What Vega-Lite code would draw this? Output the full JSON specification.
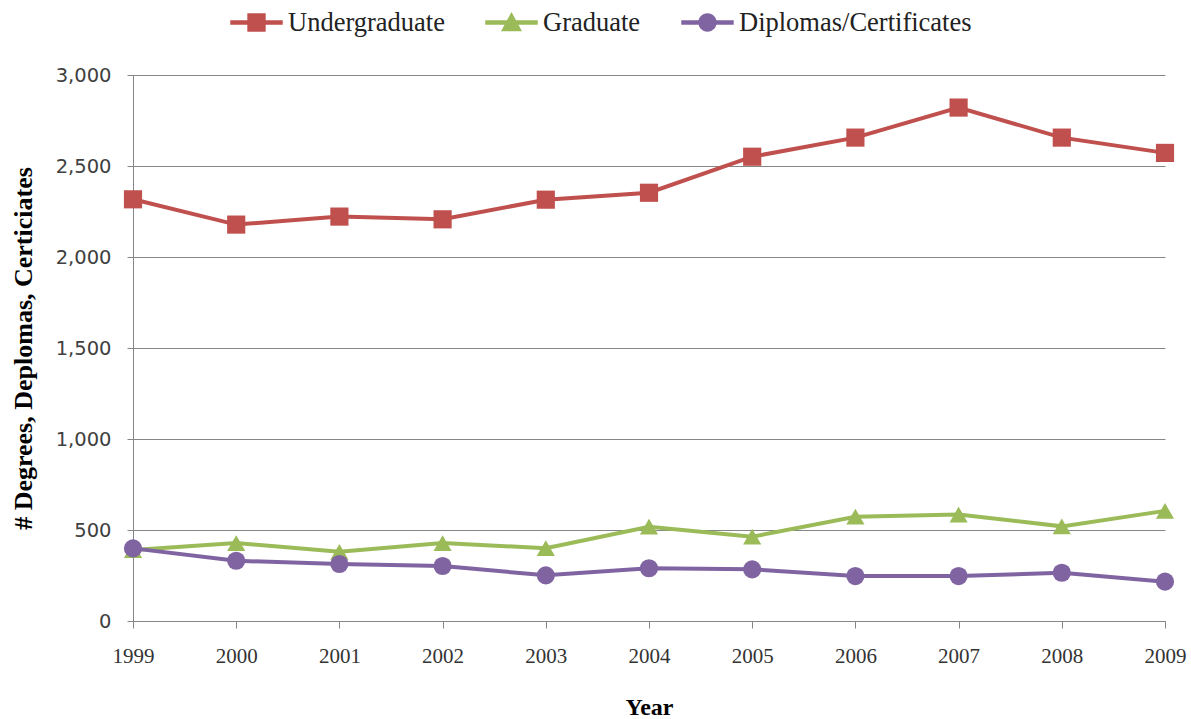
{
  "$schema": "https://vega.github.io/schema/vega-lite/v6.json",
  "autosize": {"type": "none"},
  "padding": {"left": 133, "top": 75, "right": 26, "bottom": 98},
  "width": 1032,
  "height": 546,
  "background": "white",
  "config": {"view": {"stroke": null}},
  "data": {"values": [
    {"Year": "1999", "Series": "Undergraduate", "Value": 2317},
    {"Year": "2000", "Series": "Undergraduate", "Value": 2178},
    {"Year": "2001", "Series": "Undergraduate", "Value": 2222},
    {"Year": "2002", "Series": "Undergraduate", "Value": 2207},
    {"Year": "2003", "Series": "Undergraduate", "Value": 2315},
    {"Year": "2004", "Series": "Undergraduate", "Value": 2353},
    {"Year": "2005", "Series": "Undergraduate", "Value": 2551},
    {"Year": "2006", "Series": "Undergraduate", "Value": 2656},
    {"Year": "2007", "Series": "Undergraduate", "Value": 2821},
    {"Year": "2008", "Series": "Undergraduate", "Value": 2656},
    {"Year": "2009", "Series": "Undergraduate", "Value": 2572},
    {"Year": "1999", "Series": "Graduate", "Value": 390},
    {"Year": "2000", "Series": "Graduate", "Value": 428},
    {"Year": "2001", "Series": "Graduate", "Value": 380},
    {"Year": "2002", "Series": "Graduate", "Value": 428},
    {"Year": "2003", "Series": "Graduate", "Value": 400},
    {"Year": "2004", "Series": "Graduate", "Value": 518},
    {"Year": "2005", "Series": "Graduate", "Value": 463},
    {"Year": "2006", "Series": "Graduate", "Value": 573},
    {"Year": "2007", "Series": "Graduate", "Value": 585},
    {"Year": "2008", "Series": "Graduate", "Value": 520},
    {"Year": "2009", "Series": "Graduate", "Value": 605},
    {"Year": "1999", "Series": "Diplomas/Certificates", "Value": 399},
    {"Year": "2000", "Series": "Diplomas/Certificates", "Value": 331},
    {"Year": "2001", "Series": "Diplomas/Certificates", "Value": 313},
    {"Year": "2002", "Series": "Diplomas/Certificates", "Value": 302},
    {"Year": "2003", "Series": "Diplomas/Certificates", "Value": 251},
    {"Year": "2004", "Series": "Diplomas/Certificates", "Value": 290},
    {"Year": "2005", "Series": "Diplomas/Certificates", "Value": 284},
    {"Year": "2006", "Series": "Diplomas/Certificates", "Value": 247},
    {"Year": "2007", "Series": "Diplomas/Certificates", "Value": 247},
    {"Year": "2008", "Series": "Diplomas/Certificates", "Value": 265},
    {"Year": "2009", "Series": "Diplomas/Certificates", "Value": 216}
  ]},
  "encoding": {
    "x": {
      "field": "Year", "type": "ordinal",
      "scale": {"type": "point", "padding": 0},
      "axis": {
        "title": "Year", "labelAngle": 0,
        "titleFont": "Liberation Serif", "titleFontSize": 24, "titleFontWeight": "bold", "titleColor": "black",
        "titlePadding": 29,
        "labelFont": "Liberation Serif", "labelFontSize": 21, "labelColor": "#333333", "labelPadding": 17,
        "domainColor": "#868686", "tickColor": "#868686", "tickSize": 7, "grid": false
      }
    },
    "y": {
      "field": "Value", "type": "quantitative",
      "scale": {"domain": [0, 3000]},
      "axis": {
        "title": "# Degrees, Deplomas, Certiciates",
        "values": [0, 500, 1000, 1500, 2000, 2500, 3000], "format": ",.0f",
        "titleFont": "Liberation Serif", "titleFontSize": 26, "titleFontWeight": "bold", "titleColor": "black",
        "titleX": -110, "titleY": 273, "titleAngle": -90, "titleAlign": "center", "titleBaseline": "middle",
        "labelFont": "DejaVu Sans", "labelFontSize": 19.5, "labelColor": "#404040", "labelPadding": 16,
        "domainColor": "#868686", "tickColor": "#868686", "tickSize": 6,
        "grid": true, "gridColor": "#868686", "gridWidth": 1
      }
    }
  },
  "layer": [
    {
      "mark": {"type": "line", "strokeWidth": 4},
      "encoding": {
        "color": {"field": "Series", "type": "nominal",
          "scale": {"domain": ["Undergraduate", "Graduate", "Diplomas/Certificates"], "range": ["#C0504D", "#9BBB59", "#8064A2"]},
          "legend": null},
        "detail": {"field": "Series"}
      }
    },
    {
      "mark": {"type": "point", "filled": true, "opacity": 1, "size": 330},
      "encoding": {
        "color": {"field": "Series", "type": "nominal",
          "scale": {"domain": ["Undergraduate", "Graduate", "Diplomas/Certificates"], "range": ["#C0504D", "#9BBB59", "#8064A2"]},
          "legend": null},
        "shape": {"field": "Series", "type": "nominal",
          "scale": {"domain": ["Undergraduate", "Graduate", "Diplomas/Certificates"], "range": ["square", "triangle-up", "circle"]},
          "legend": null}
      }
    },
    {
      "mark": {"type": "point", "filled": true, "opacity": 0, "size": 10},
      "encoding": {
        "color": {"field": "Series", "type": "nominal",
          "scale": {"domain": ["Undergraduate", "Graduate", "Diplomas/Certificates"], "range": ["#C0504D", "#9BBB59", "#8064A2"]},
          "legend": {
            "title": null, "orient": "none", "direction": "horizontal", "legendX": 97, "legendY": -79,
            "symbolSize": 2750, "symbolOpacity": 1, "symbolStrokeWidth": 0,
            "labelFont": "Liberation Serif", "labelFontSize": 26.5, "labelColor": "#222222", "labelOffset": 5,
            "columnPadding": 40, "labelLimit": 400
          }},
        "shape": {"field": "Series", "type": "nominal",
          "scale": {"domain": ["Undergraduate", "Graduate", "Diplomas/Certificates"],
            "range": [
              "M-1,-0.09H1V0.09H-1Z M-0.35,-0.35H0.35V0.35H-0.35Z",
              "M-1,-0.09H1V0.09H-1Z M0,-0.4L0.4,0.33L-0.4,0.33Z",
              "M-1,-0.09H1V0.09H-1Z M-0.35,0A0.35,0.35 0 1,1 0.35,0A0.35,0.35 0 1,1 -0.35,0Z"
            ]},
          "legend": {
            "title": null, "orient": "none", "direction": "horizontal", "legendX": 97, "legendY": -79,
            "symbolSize": 2750, "symbolOpacity": 1, "symbolStrokeWidth": 0,
            "labelFont": "Liberation Serif", "labelFontSize": 26.5, "labelColor": "#222222", "labelOffset": 5,
            "columnPadding": 40, "labelLimit": 400
          }}
      }
    }
  ],
  "resolve": {"scale": {"color": "independent", "shape": "independent"}}
}
